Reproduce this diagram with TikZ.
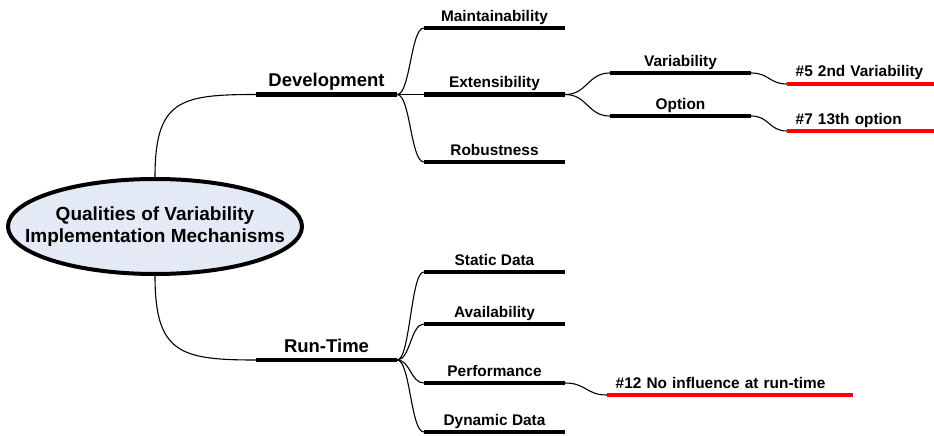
\documentclass[tikz,border=0pt]{standalone}
\usepackage{fontspec}
\setmainfont{Liberation Sans}
\usetikzlibrary{shapes.geometric}
\definecolor{rootfill}{HTML}{E4EAF5}
\definecolor{notered}{HTML}{FF0000}
\begin{document}
\begin{tikzpicture}[x=1pt,y=-1pt,
  root/.style={ellipse, draw, line width=4pt, fill=rootfill,
    minimum width=294pt, minimum height=95pt, inner xsep=-30pt, inner ysep=0pt,
    align=center, font=\fontsize{19}{22}\selectfont\bfseries},
  topic/.style={anchor=south, inner xsep=0pt, inner ysep=6.5pt, text depth=0pt,
    minimum width=141pt, font=\fontsize{15.4}{18}\selectfont\bfseries},
  maintopic/.style={topic, inner ysep=7.5pt, font=\fontsize{18.5}{22}\selectfont\bfseries},
  note/.style={anchor=south west, inner xsep=8.5pt, inner ysep=6.8pt, text depth=0pt,
    align=left, font=\fontsize{15.4}{18}\selectfont\bfseries},
  bar/.style={line width=4.2pt},
  redbar/.style={line width=4.2pt, notered},
  link/.style={line width=1.1pt}]
\useasboundingbox (0,0) rectangle (934,436);

% central idea
\node[root] (root) at (155,226.5) {Qualities of Variability\\Implementation Mechanisms};

% main branches
\node[maintopic] (dev) at (326.5,94.5) {Development};
\node[maintopic] (rt)  at (326.5,360) {Run-Time};

% development subtopics
\node[topic] (maint) at (494.5,28)   {Maintainability};
\node[topic] (ext)   at (494.5,94.5) {Extensibility};
\node[topic] (rob)   at (494.5,162)  {Robustness};
\node[topic] (var)   at (680.5,73)   {Variability};
\node[topic] (opt)   at (680.5,116)  {Option};

% run-time subtopics
\node[topic] (stat)  at (494.5,272) {Static Data};
\node[topic] (avail) at (494.5,324) {Availability};
\node[topic] (perf)  at (494.5,383) {Performance};
\node[topic] (dyn)   at (494.5,432) {Dynamic Data};

% remarks
\node[note, text width=130pt] (n5)  at (787,84)  {\#5 2nd Variability};
\node[note, text width=130pt] (n7)  at (787,131) {\#7 13th option};
\node[note, text width=229pt] (n12) at (607,395) {\#12 No influence at run-time};

% underlines
\foreach \n in {dev,rt,maint,ext,rob,var,opt,stat,avail,perf,dyn}
  \draw[bar] (\n.south west) -- (\n.south east);
\foreach \n in {n5,n7,n12}
  \draw[redbar] (\n.south west) -- (\n.south east);

% connectors
\draw[link] (root.north) .. controls (155,100) and (180,94.5) .. (dev.south west);
\draw[link] (root.south) .. controls (155,353) and (180,360) .. (rt.south west);

\foreach \c in {maint,ext,rob}
  \draw[link] (dev.south east) .. controls +(13,0) and +(-13,0) .. (\c.south west);
\foreach \c in {stat,avail,perf,dyn}
  \draw[link] (rt.south east) .. controls +(13,0) and +(-13,0) .. (\c.south west);
\foreach \c in {var,opt}
  \draw[link] (ext.south east) .. controls +(22,0) and +(-22,0) .. (\c.south west);

\draw[link] (var.south east) .. controls +(18,0) and +(-18,0) .. (n5.south west);
\draw[link] (opt.south east) .. controls +(18,0) and +(-18,0) .. (n7.south west);
\draw[link] (perf.south east) .. controls +(21,0) and +(-21,0) .. (n12.south west);
\end{tikzpicture}
\end{document}
